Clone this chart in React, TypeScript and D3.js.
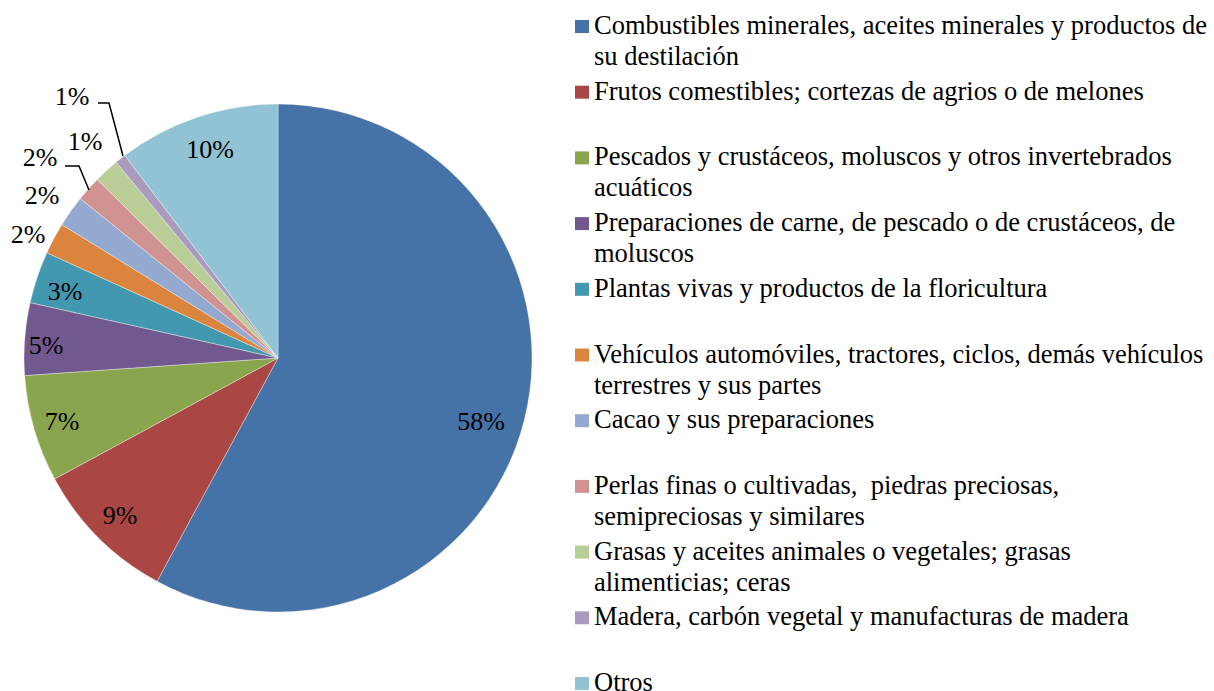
import React from "react";
import * as d3 from "d3";

const legendLines = [
  ["Combustibles minerales, aceites minerales y productos de", "su destilación"],
  ["Frutos comestibles; cortezas de agrios o de melones"],
  ["Pescados y crustáceos, moluscos y otros invertebrados", "acuáticos"],
  ["Preparaciones de carne, de pescado o de crustáceos, de", "moluscos"],
  ["Plantas vivas y productos de la floricultura"],
  ["Vehículos automóviles, tractores, ciclos, demás vehículos", "terrestres y sus partes"],
  ["Cacao y sus preparaciones"],
  ["Perlas finas o cultivadas,  piedras preciosas,", "semipreciosas y similares"],
  ["Grasas y aceites animales o vegetales; grasas", "alimenticias; ceras"],
  ["Madera, carbón vegetal y manufacturas de madera"],
  ["Otros"],
];
const values = [57.9, 9.2, 6.8, 4.6, 3.3, 2.0, 2.0, 1.6, 1.6, 0.7, 10.3];
const valueLabels = ["58%", "9%", "7%", "5%", "3%", "2%", "2%", "2%", "1%", "1%", "10%"];
const colors = [
  "#4572A7", "#AA4643", "#89A54E", "#71588F", "#4198AF", "#DB843D",
  "#93A9CF", "#D19392", "#B9CD96", "#A99BBD", "#92C3D4",
];
const labelPos: [number, number][] = [
  [481, 421], [120, 515], [62, 421], [46, 345], [65, 291], [28, 234],
  [42, 195], [40, 157], [85, 141], [72, 96], [210, 149],
];
const leaders: Record<number, [number, number][]> = {
  7: [[65, 166], [79, 166], [89, 190]],
  9: [[98, 103], [109, 103], [123, 156]],
};

const W = 1214;
const H = 691;
const cx = 278;
const cy = 358;
const R = 254;

export default function App() {
  const pie = d3.pie<number>().sort(null).value((d) => d)(values);
  const arc = d3.arc<d3.PieArcDatum<number>>().innerRadius(0).outerRadius(R);
  const fstyle = { fontFamily: "Liberation Serif", whiteSpace: "pre" as const };
  return (
    <div style={{ position: "absolute", left: 0, top: 0 }}>
      <svg width={W} height={H} style={{ display: "block", background: "#fff" }}>
        <g transform={`translate(${cx},${cy})`}>
          {pie.map((p, i) => (
            <path key={i} d={arc(p) || ""} fill={colors[i]} stroke="#ffffff" strokeWidth={0.6} strokeOpacity={0.6} />
          ))}
        </g>
        {Object.entries(leaders).map(([k, pts]) => (
          <path key={k} d={d3.line()(pts) || ""} fill="none" stroke="#000" strokeWidth={1.5} />
        ))}
        {valueLabels.map((t, i) => (
          <text key={i} x={labelPos[i][0]} y={labelPos[i][1]} textAnchor="middle" dominantBaseline="central"
            style={fstyle} fontSize={26} fill="#000">{t}</text>
        ))}
        {legendLines.map((lines, i) => {
          const base = 34 + i * 65.7;
          return (
            <g key={i}>
              <rect x={575} y={base - 14} width={14} height={13} fill={colors[i]} />
              {lines.map((l, j) => (
                <text key={j} x={594} y={base + j * 31} style={fstyle} fontSize={26.5} fill="#000">{l}</text>
              ))}
            </g>
          );
        })}
      </svg>
    </div>
  );
}
